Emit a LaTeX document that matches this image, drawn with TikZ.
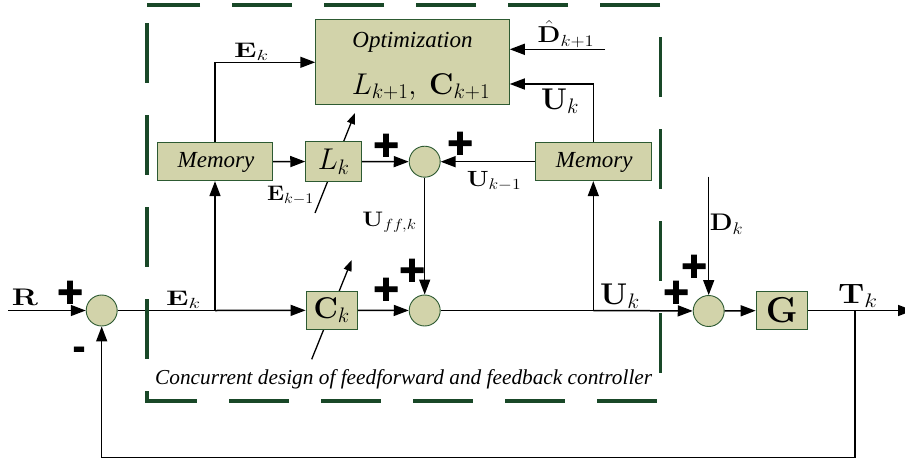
\RequirePackage{fix-cm}
\documentclass[tikz,border=0pt]{standalone}
\usepackage[no-math]{fontspec}
\setmainfont{Liberation Serif}
\newfontfamily\signfont[FakeBold=2]{Liberation Sans}
\usetikzlibrary{arrows.meta}
\definecolor{boxfill}{RGB}{210,211,170}
\definecolor{boxline}{RGB}{45,90,50}
\definecolor{dashgreen}{RGB}{25,72,40}
\newcommand{\fsz}[1]{\fontsize{#1}{#1}\selectfont}
\newcommand{\wlab}[2]{\scalebox{#1}[1]{#2}}
\begin{document}
\begin{tikzpicture}[x=1pt,y=-1pt,
  blk/.style={draw=boxline, fill=boxfill, line width=0.9pt, inner sep=0pt, anchor=center},
  sumc/.style={circle, draw=boxline, fill=boxfill, line width=0.9pt, minimum size=31pt, inner sep=0pt},
  wire/.style={line width=1.5pt},
  arr/.style={wire, -{Triangle[length=15pt,width=11pt]}},
  sarr/.style={line width=1.3pt, -{Triangle[length=11pt,width=8pt]}},
  lab/.style={inner sep=0pt, anchor=center},
  sign/.style={inner sep=0pt, anchor=center, font=\signfont\bfseries\fsz{44}},
  minus/.style={inner sep=0pt, anchor=center, font=\signfont\bfseries\fsz{38}},
  itx/.style={inner sep=0pt, anchor=center, font=\itshape\fsz{23}},
]
\useasboundingbox (0,0) rectangle (905,463);
% adjustable-gain arrows (behind blocks)
\coordinate (lka) at (315,213);
\coordinate (lkb) at (355,113);
\coordinate (cka) at (311.7,359.3);
\coordinate (ckb) at (351.7,260);
\draw[sarr] (lka) -- (lkb);
\draw[sarr] (cka) -- (ckb);
% blocks
\node[blk, minimum width=193.6pt, minimum height=84.7pt] (opt) at (412.5,61.7) {};
\node[itx] (optt) at (412.5,42) {Optimization};
\node[lab, font=\fsz{30}] (optm) at (421,87) {$L_{k+1},\ \mathbf{C}_{k+1}$};
\node[blk, minimum width=115.4pt, minimum height=38pt] (mem1) at (215,161.7) {};
\node[itx] (mem1t) at (216,162) {Memory};
\node[blk, minimum width=56pt, minimum height=40.4pt, font=\fsz{30}] (Lk) at (333.7,161.5) {$L_k$};
\node[sumc] (s1) at (424.7,161.7) {};
\node[blk, minimum width=115.3pt, minimum height=38pt] (mem2) at (593.3,161.7) {};
\node[itx] (mem2t) at (594.3,162) {Memory};
\node[sumc] (s0) at (101.7,310.5) {};
\node[blk, minimum width=51.3pt, minimum height=38.3pt, font=\fsz{30}] (Ck) at (331.7,310.3) {$\mathbf{C}_k$};
\node[sumc] (s2) at (424.7,310.5) {};
\node[sumc] (s3) at (708.7,311) {};
\node[blk, minimum width=51.3pt, minimum height=37.6pt, font=\fsz{36}] (G) at (781.7,310.5) {$\mathbf{G}$};
% coordinates
\coordinate (rin) at (8,310.5);
\coordinate (j1) at (215,310.5);
\coordinate (j2) at (593.3,310.5);
\coordinate (j3) at (855,310.5);
\coordinate (out) at (913,310.5);
\coordinate (fb) at (855,457.3);
\coordinate (dh) at (605,49.3);
\coordinate (dk) at (708.7,176.7);
% connectors
\draw[arr] (rin) -- (s0);
\draw[wire] (s0) -- (j1);
\draw[arr] (j1) -- (Ck);
\draw[arr] (j1) -- (mem1);
\draw[arr] (mem1.north) |- ([yshift=-0.6pt]opt.west);
\draw[arr] (mem1) -- (Lk);
\draw[arr] (Lk) -- (s1);
\draw[arr] (mem2) -- (s1);
\draw[arr] (mem2.north) |- ([yshift=-22.3pt]opt.east);
\draw[arr] (dh) -- (dh -| opt.east);
\draw[arr] (s1) -- (s2);
\draw[arr] (Ck) -- (s2);
\draw[wire] (s2) -- (j2);
\draw[arr] (j2) -- (mem2);
\draw[arr] (j2) -- (s3);
\draw[arr] (dk) -- (s3);
\draw[arr] (s3) -- (G);
\draw[wire] (G) -- (j3);
\draw[arr] (j3) -- (out);
\draw[arr] (j3) -- (fb) -| (s0);
% labels
\node[lab, font=\fsz{21}] (lEk1) at (251.5,52) {\wlab{1.45}{$\mathbf{E}_k$}};
\node[lab, font=\fsz{23}] (lDh) at (566,34) {\wlab{1.15}{$\hat{\mathbf{D}}_{k+1}$}};
\node[lab, font=\fsz{30}] (lUk1) at (560,101) {$\mathbf{U}_k$};
\node[lab, font=\fsz{21}] (lEkm) at (290.5,195) {\wlab{1.1}{$\mathbf{E}_{k-1}$}};
\node[lab, font=\fsz{22}] (lUkm) at (494,181) {\wlab{1.15}{$\mathbf{U}_{k-1}$}};
\node[lab, font=\fsz{21}] (lUff) at (389.5,222) {\wlab{1.15}{$\mathbf{U}_{ff,k}$}};
\node[lab, font=\fsz{24}] (lR) at (25,297) {\wlab{1.3}{$\mathbf{R}$}};
\node[lab, font=\fsz{21}] (lEk2) at (183.5,300) {\wlab{1.45}{$\mathbf{E}_k$}};
\node[lab, font=\fsz{30}] (lUk2) at (620,296) {\wlab{1.05}{$\mathbf{U}_k$}};
\node[lab, font=\fsz{24}] (lDk) at (726.5,224) {\wlab{1.1}{$\mathbf{D}_k$}};
\node[lab, font=\fsz{28}] (lTk) at (858,296) {\wlab{1.2}{$\mathbf{T}_k$}};
% signs
\node[sign] (p0) at (70,294) {+};
\node[minus] (m0) at (79,353) {-};
\node[sign] (p1a) at (386,147) {+};
\node[sign] (p1b) at (460,145) {+};
\node[sign] (p2a) at (386,291) {+};
\node[sign] (p2b) at (412,272) {+};
\node[sign] (p3a) at (676,294) {+};
\node[sign] (p3b) at (694,268) {+};
% caption
\node[itx, anchor=west, font=\itshape\fsz{21.3}] (cap) at (155,379) {Concurrent design of feedforward and feedback controller};
% dashed frame
\draw[dashgreen, line width=3.5pt, dash pattern=on 60pt off 32pt, dash phase=74pt]
  (147,5) -- (147,401) -- (660.5,401) -- (660.5,5) -- cycle;
\end{tikzpicture}
\end{document}
